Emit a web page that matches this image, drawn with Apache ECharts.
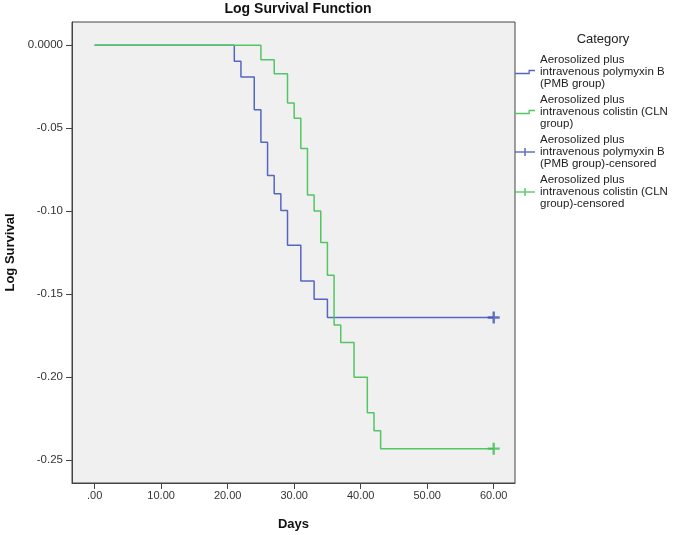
<!DOCTYPE html>
<html><head><meta charset="utf-8">
<script src="https://cdn.jsdelivr.net/npm/echarts@6/dist/echarts.min.js"></script>
<style>html,body{margin:0;padding:0;background:#fff}#c{width:675px;height:535px}</style>
</head><body><div id="c"></div>
<script>
// ---- data ----
const xTicks = [0, 10, 20, 30, 40, 50, 60];
const xTickLabels = ['.00', '10.00', '20.00', '30.00', '40.00', '50.00', '60.00'];
const yTicks = [0, -0.05, -0.10, -0.15, -0.20, -0.25];
const yTickLabels = ['0.0000', '-0.05', '-0.10', '-0.15', '-0.20', '-0.25'];

const pmbDays = [0, 21, 22, 24, 25, 26, 27, 28, 29, 31, 33, 35, 60];
const pmbLog  = [0, -0.0097, -0.0192, -0.0388, -0.0585, -0.0785, -0.0895, -0.0995, -0.1205, -0.1420, -0.1530, -0.1640, -0.1640];
const clnDays = [0, 25, 27, 29, 30, 31, 32, 33, 34, 35, 36, 37, 39, 41, 42, 43, 60];
const clnLog  = [0, -0.0087, -0.0172, -0.0348, -0.0440, -0.0622, -0.0902, -0.0998, -0.1188, -0.1385, -0.1685, -0.1790, -0.2000, -0.2214, -0.2323, -0.2430, -0.2430];
const pmbCensorDays = [60];
const pmbCensorLog = [-0.1640];
const clnCensorDays = [60];
const clnCensorLog = [-0.2430];

const seriesNames = ['PMB', 'CLN', 'PMB-c', 'CLN-c'];
const legendLabels = {
  'PMB': 'Aerosolized plus\nintravenous polymyxin B\n(PMB group)',
  'CLN': 'Aerosolized plus\nintravenous colistin (CLN\ngroup)',
  'PMB-c': 'Aerosolized plus\nintravenous polymyxin B\n(PMB group)-censored',
  'CLN-c': 'Aerosolized plus\nintravenous colistin (CLN\ngroup)-censored'
};
// ---- end data ----

const BLUE = '#5566c2', GREEN = '#52c662';
const BLUE_M = '#3f52b8', GREEN_M = '#3cbf4f';
const zip = (a, b) => a.map((v, i) => [v, b[i]]);
const plusPath = 'path://M0,4.8H12V7.2H0Z M4.8,0H7.2V12H4.8Z';
const stepIcon = 'path://M0,3H13.5V0H20V1.3H14.8V4.3H0Z';
const plusIcon = 'path://M0,3.3H20V4.7H0Z M9.2,0H10.8V8H9.2Z';

const chart = echarts.init(document.getElementById('c'), null, {renderer: 'canvas'});
const font = 'Arial, "Liberation Sans", sans-serif';
chart.setOption({
  animation: false,
  backgroundColor: '#ffffff',
  title: [
    {text: 'Log Survival Function', left: 293, top: -3, textAlign: 'center',
     textStyle: {fontFamily: font, fontSize: 14, fontWeight: 'bold', color: '#111'}},
    {text: 'Category', left: 598, top: 28, textAlign: 'center',
     textStyle: {fontFamily: font, fontSize: 13, fontWeight: 'normal', color: '#222'}}
  ],
  grid: {left: 72, right: 160, top: 22, bottom: 52, show: true, outerBoundsMode: 'none', containLabel: false,
         backgroundColor: '#f0f0f0', borderColor: '#444', borderWidth: 1},
  legend: [
    {data: [{name: 'PMB', icon: stepIcon}, {name: 'CLN', icon: stepIcon}],
     orient: 'vertical', left: 510, top: 49, itemWidth: 20, itemHeight: 4.3, itemGap: 4,
     formatter: n => legendLabels[n], selectedMode: false,
     textStyle: {fontFamily: font, fontSize: 11.5, lineHeight: 12, color: '#222'}},
    {data: [{name: 'PMB-c', icon: plusIcon}, {name: 'CLN-c', icon: plusIcon}],
     orient: 'vertical', left: 510, top: 129, itemWidth: 20, itemHeight: 8, itemGap: 4,
     formatter: n => legendLabels[n], selectedMode: false,
     textStyle: {fontFamily: font, fontSize: 11.5, lineHeight: 12, color: '#222'}}
  ],
  xAxis: {
    type: 'value', min: -3.4, max: 63.2,
    name: 'Days', nameLocation: 'middle', nameGap: 35,
    nameTextStyle: {fontFamily: font, fontSize: 13, fontWeight: 'bold', color: '#111'},
    axisLine: {show: true, onZero: false, lineStyle: {color: '#444', width: 1}},
    axisTick: {show: true, inside: false, length: 6, customValues: xTicks, lineStyle: {color: '#444'}},
    axisLabel: {customValues: xTicks, margin: 7, fontFamily: font, fontSize: 11, color: '#333',
      formatter: v => xTickLabels[xTicks.indexOf(v)] ?? ''},
    splitLine: {show: false}
  },
  yAxis: {
    type: 'value', min: -0.2637, max: 0.014,
    name: 'Log Survival', nameLocation: 'middle', nameGap: 51, nameRotate: 90,
    nameTextStyle: {fontFamily: font, fontSize: 13, fontWeight: 'bold', color: '#111'},
    axisLine: {show: true, onZero: false, lineStyle: {color: '#444', width: 1}},
    axisTick: {show: true, inside: false, length: 6, customValues: yTicks, lineStyle: {color: '#444'}},
    axisLabel: {customValues: yTicks, margin: 9, fontFamily: font, fontSize: 11.5, color: '#333',
      formatter: v => { const i = yTicks.findIndex(t => Math.abs(t - v) < 1e-9); return i >= 0 ? yTickLabels[i] : ''; }},
    splitLine: {show: false}
  },
  series: [
    {name: 'PMB', type: 'line', step: 'end', data: zip(pmbDays, pmbLog), showSymbol: false,
     color: BLUE, lineStyle: {color: BLUE, width: 1.5}, z: 2},
    {name: 'CLN', type: 'line', step: 'end', data: zip(clnDays, clnLog), showSymbol: false,
     color: GREEN, lineStyle: {color: GREEN, width: 1.5}, z: 3},
    {name: 'PMB-c', type: 'scatter', data: zip(pmbCensorDays, pmbCensorLog), symbol: plusPath,
     symbolSize: 12, itemStyle: {color: BLUE_M}, z: 4},
    {name: 'CLN-c', type: 'scatter', data: zip(clnCensorDays, clnCensorLog), symbol: plusPath,
     symbolSize: 12, itemStyle: {color: GREEN_M}, z: 4}
  ]
});
</script></body></html>
